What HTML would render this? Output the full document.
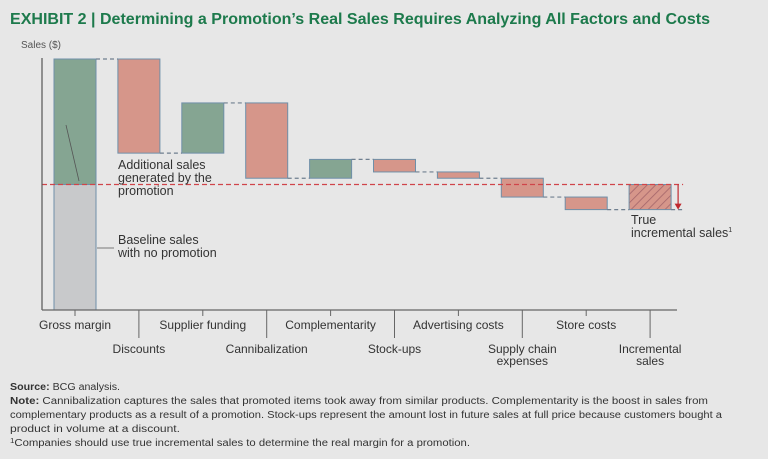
<!DOCTYPE html>
<html><head><meta charset="utf-8"><style>
html,body{margin:0;padding:0;background:#e7e7e7;}
svg{display:block;font-family:"Liberation Sans",sans-serif;}
</style></head><body>
<svg id="chart" width="768" height="459" viewBox="0 0 768 459">
<rect width="768" height="459" fill="#e7e7e7"/>
<text x="10" y="24" font-size="15.5" font-weight="bold" fill="#1d7a4c" textLength="700" lengthAdjust="spacingAndGlyphs">EXHIBIT 2 | Determining a Promotion’s Real Sales Requires Analyzing All Factors and Costs</text>
<text x="21" y="48" font-size="10" fill="#555">Sales ($)</text>
<g id="marks"></g>
<line x1="42" y1="58" x2="42" y2="310" stroke="#555" stroke-width="1.2"/>
<line x1="42" y1="310" x2="677" y2="310" stroke="#666" stroke-width="1.2"/>
<g id="xlabels" font-size="12" fill="#333" text-anchor="middle"></g>
<line x1="66" y1="125" x2="79" y2="181" stroke="#555" stroke-width="0.8"/>
<text font-size="12.5" fill="#333"><tspan x="118" y="169">Additional sales</tspan><tspan x="118" y="182">generated by the</tspan><tspan x="118" y="195">promotion</tspan></text>
<line x1="97" y1="248" x2="114" y2="248" stroke="#555" stroke-width="0.8"/>
<text font-size="12.5" fill="#333"><tspan x="118" y="244">Baseline sales</tspan><tspan x="118" y="257">with no promotion</tspan></text>
<text font-size="12.5" fill="#333"><tspan x="631" y="224">True</tspan><tspan x="631" y="237">incremental sales</tspan><tspan font-size="7" dy="-5">1</tspan></text>
<g font-size="10" fill="#333">
<text x="10" y="390" textLength="110" lengthAdjust="spacingAndGlyphs"><tspan font-weight="bold">Source:</tspan> BCG analysis.</text>
<text x="10" y="404" textLength="698" lengthAdjust="spacingAndGlyphs"><tspan font-weight="bold">Note:</tspan> Cannibalization captures the sales that promoted items took away from similar products. Complementarity is the boost in sales from</text>
<text x="10" y="418" textLength="712" lengthAdjust="spacingAndGlyphs">complementary products as a result of a promotion. Stock-ups represent the amount lost in future sales at full price because customers bought a</text>
<text x="10" y="432" textLength="170" lengthAdjust="spacingAndGlyphs">product in volume at a discount.</text>
<text x="10" y="446" textLength="460" lengthAdjust="spacingAndGlyphs"><tspan font-size="7" dy="-3">1</tspan><tspan dy="3">Companies should use true incremental sales to determine the real margin for a promotion.</tspan></text>
</g>
<defs><pattern id="hatch" patternUnits="userSpaceOnUse" width="6" height="6" patternTransform="rotate(45)"><rect width="6" height="6" fill="#d6968a"/><line x1="0" y1="0" x2="0" y2="6" stroke="#a4656a" stroke-width="1.6"/></pattern></defs>
</svg>
<script>
const categories=["Gross margin","Discounts","Supplier funding","Cannibalization","Complementarity","Stock-ups","Advertising costs","Supply chain expenses","Store costs","Incremental sales"];
const deltas=[100,-37.5,20,-30,7.5,-5,-2.5,-7.5,-5,null];
const baselineSales=50;
const ns="http://www.w3.org/2000/svg";
const y0=310,yTop=59,maxV=100;
function yScale(v){return y0-(v/maxV)*(y0-yTop);}
function xScale(i){return 75+i*63.9;}
const bw=42;
const marks=document.getElementById('marks');
function mk(tag,attrs){const e=document.createElementNS(ns,tag);for(const k in attrs)e.setAttribute(k,attrs[k]);marks.appendChild(e);return e;}
let level=0;const levels=[];
for(let i=0;i<categories.length;i++){
  const cx=xScale(i),x=cx-bw/2;
  if(i===0){
    level=deltas[0];
    const g=mk('rect',{x:x,y:yScale(baselineSales),width:bw,height:yScale(0)-yScale(baselineSales),fill:'#c8c9cb',stroke:'#6f8fa8','stroke-width':1});
    
    
    const a=mk('rect',{x:x,y:yScale(level),width:bw,height:yScale(baselineSales)-yScale(level),fill:'#85a592',stroke:'#6f8fa8','stroke-width':1});
    
    
  } else if(deltas[i]!==null){
    const prev=level;level=prev+deltas[i];
    const top=Math.max(prev,level),bot=Math.min(prev,level);
    const r=mk('rect',{x:x,y:yScale(top),width:bw,height:yScale(bot)-yScale(top),fill:deltas[i]>0?'#85a592':'#d6968a',stroke:'#6f8fa8','stroke-width':1});
    
    
  } else {
    const r=mk('rect',{x:x,y:yScale(baselineSales),width:bw,height:yScale(level)-yScale(baselineSales),fill:'url(#hatch)',stroke:'#6f8fa8','stroke-width':1});
    
    
  }
  levels.push(level);
  if(i>0){
    const c=mk('line',{x1:xScale(i-1)+bw/2,x2:x,y1:yScale(levels[i-1]),y2:yScale(levels[i-1]),stroke:'#6f7f8f','stroke-width':1.2,'stroke-dasharray':'4,3'});
    
    
  }
}
const last=categories.length-1;
const ext=mk('line',{x1:xScale(last)+bw/2,x2:xScale(last)+bw/2+12,y1:yScale(levels[last]),y2:yScale(levels[last]),stroke:'#6f7f8f','stroke-width':1.2,'stroke-dasharray':'4,3'});


const ref=mk('line',{x1:42,x2:xScale(last)+bw/2+12,y1:yScale(baselineSales),y2:yScale(baselineSales),stroke:'#d0454a','stroke-width':1.2,'stroke-dasharray':'5,3'});


const ax=xScale(last)+bw/2+7;
const arr=mk('line',{x1:ax,x2:ax,y1:yScale(baselineSales),y2:yScale(levels[last])-4,stroke:'#c0282e','stroke-width':1.2});


const ah=mk('polygon',{points:`${ax-3.5},${yScale(levels[last])-6} ${ax+3.5},${yScale(levels[last])-6} ${ax},${yScale(levels[last])}`,fill:'#c0282e'});


const xl=document.getElementById('xlabels');
categories.forEach((c,i)=>{
  const cx=xScale(i),top=i%2===0;
  const t=document.createElementNS(ns,'line');
  t.setAttribute('x1',cx);t.setAttribute('x2',cx);t.setAttribute('y1',310);t.setAttribute('y2',top?316:338);
  t.setAttribute('stroke','#666');t.setAttribute('stroke-width',1);
  
  
  xl.appendChild(t);
  const tx=document.createElementNS(ns,'text');
  tx.setAttribute('x',cx);
  const words=c==="Supply chain expenses"?["Supply chain","expenses"]:c==="Incremental sales"?["Incremental","sales"]:[c];
  words.forEach((w,k)=>{const s=document.createElementNS(ns,'tspan');s.setAttribute('x',cx);s.setAttribute('y',(top?329:353)+k*12);s.textContent=w;tx.appendChild(s);});
  
  
  xl.appendChild(tx);
});
</script>
</body></html>
